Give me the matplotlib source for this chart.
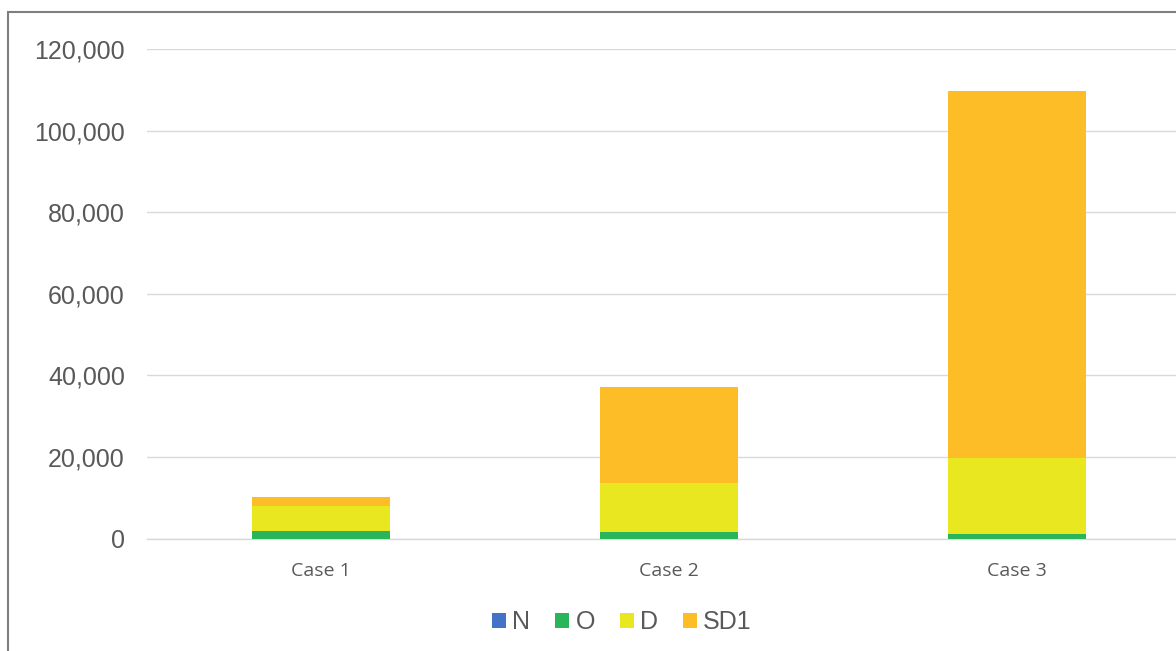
import matplotlib.pyplot as plt
from matplotlib.patches import Rectangle
from matplotlib.ticker import FuncFormatter
import numpy as np

cases = ['Case 1', 'Case 2', 'Case 3']
series = ['N', 'O', 'D', 'SD1']
n_vals = [0, 0, 0]
o_vals = [1900, 1600, 1000]
d_vals = [6100, 12100, 18700]
sd1_vals = [2100, 23400, 90000]
colors = ['#4472C4', '#2BB55A', '#E9E71F', '#FDBD26']

plt.rcParams['font.family'] = ['Liberation Sans', 'DejaVu Sans']

fig = plt.figure(figsize=(11.76, 6.51), dpi=100)
ax = fig.add_axes([147 / 1176, (651 - 538.5) / 651, (1191 - 147) / 1176, 489.5 / 651])

# outer chart border (cropped on right and bottom)
fig.patches.append(Rectangle((8 / 1176, -0.1), 1.2, (651 - 12) / 651 + 0.1,
                             transform=fig.transFigure, fill=False,
                             edgecolor='#7f7f7f', linewidth=1.5))

x = np.arange(len(cases))
width = 0.397
bottom = np.zeros(len(cases))
for name, vals, c in zip(series, [n_vals, o_vals, d_vals, sd1_vals], colors):
    ax.bar(x, vals, width, bottom=bottom, color=c, label=name, zorder=3)
    bottom += np.array(vals)

ax.set_ylim(0, 120000)
ax.set_xlim(-0.5, 2.5)
ax.set_yticks(np.arange(0, 120001, 20000))
ax.yaxis.set_major_formatter(FuncFormatter(lambda v, p: f'{int(v):,}'))
ax.set_xticks(x)
ax.set_xticklabels(cases, fontsize=14, color='#595959', family=['Open Sans', 'DejaVu Sans'])
ax.tick_params(axis='y', labelsize=18, labelcolor='#595959', length=0, pad=16)
ax.tick_params(axis='x', length=0, pad=17)
ax.grid(axis='y', color='#D9D9D9', linewidth=1, zorder=0)
for s in ['top', 'right', 'left']:
    ax.spines[s].set_visible(False)
ax.spines['bottom'].set_color('#D9D9D9')
ax.spines['bottom'].set_linewidth(1)

leg = ax.legend(loc='center', bbox_to_anchor=(622 / 1176, 1 - 622 / 651),
                bbox_transform=fig.transFigure, ncol=4, frameon=False,
                fontsize=18, handlelength=0.55, handleheight=0.55,
                handletextpad=0.25, columnspacing=1.0)
for t in leg.get_texts():
    t.set_color('#595959')

fig.savefig('out.png', dpi=100)
